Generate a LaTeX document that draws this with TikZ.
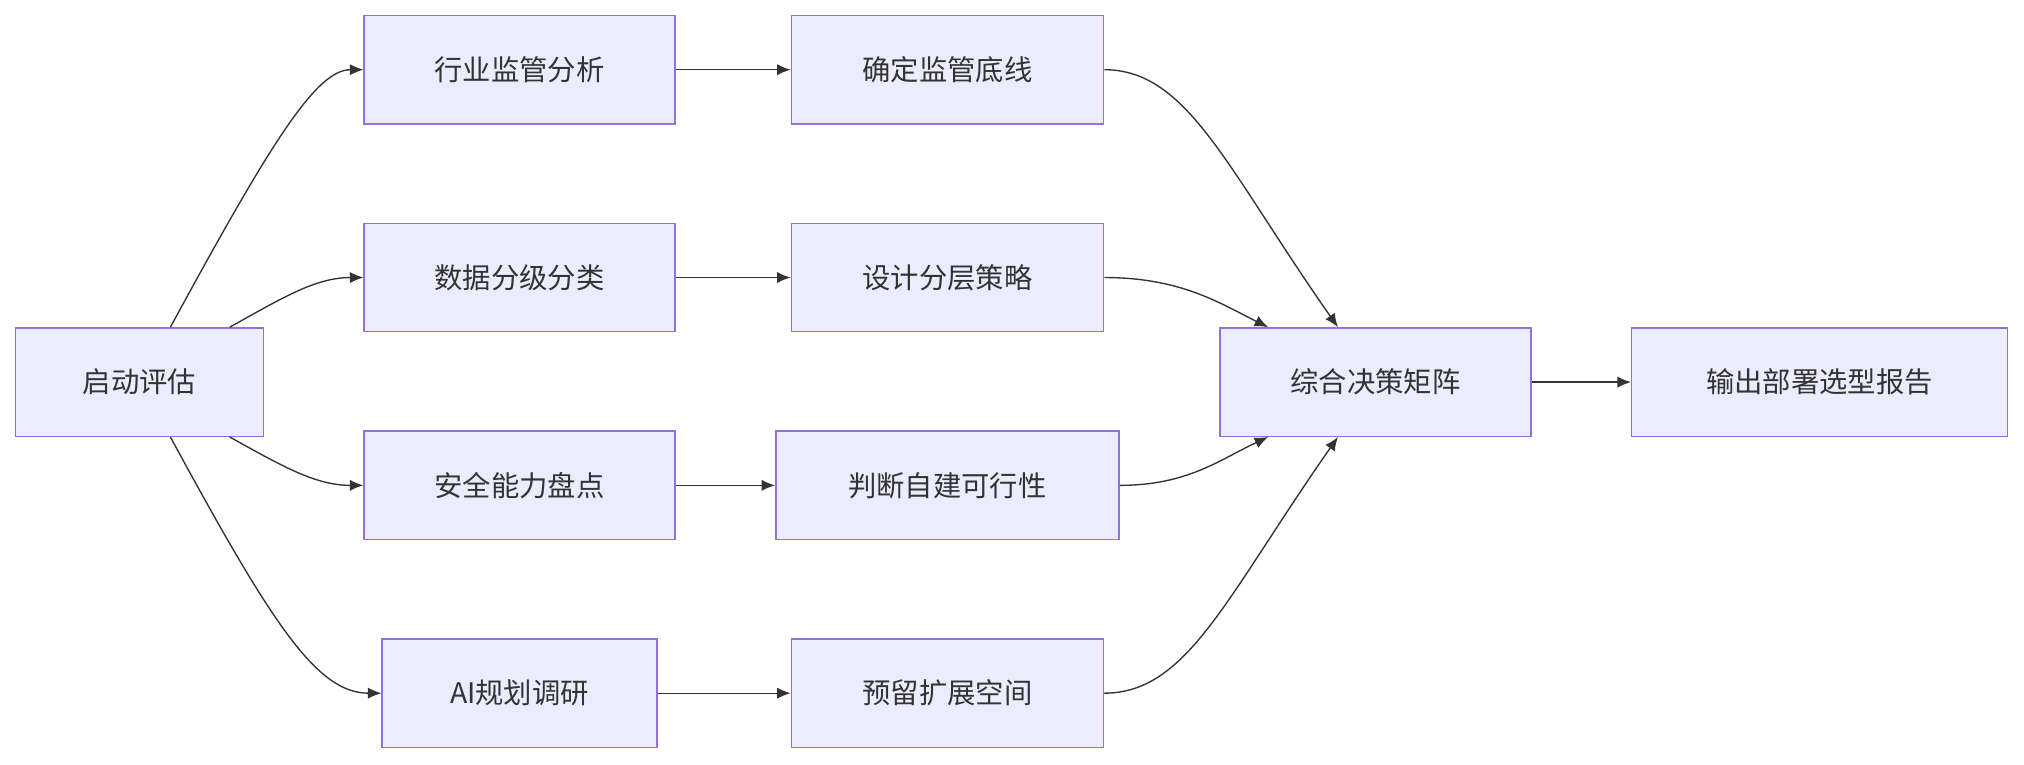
\documentclass[tikz,border=0pt]{standalone}
\usepackage{fontspec}
\setmainfont{Noto Sans CJK SC}
\usetikzlibrary{arrows.meta}
\definecolor{boxfill}{HTML}{ECECFF}
\definecolor{boxline}{HTML}{9370DB}
\definecolor{edge}{HTML}{333333}
\begin{document}
\begin{tikzpicture}[x=0.02cm,y=-0.02cm,
	box/.style={draw=boxline,fill=boxfill,line width=0.6pt,minimum height=1.68cm,inner sep=0pt,font=\fontsize{12.5}{15}\selectfont,text=edge},
	flow/.style={draw=edge,line width=0.6pt,-{Latex[length=6pt,width=5pt]}}]
	\useasboundingbox (0,0) rectangle (1568,592);
	\node [box,minimum width=3.84cm] (start) at (108,296) {启动评估};
	\node [box,minimum width=4.82cm] (reg) at (402.5,54) {行业监管分析};
	\node [box,minimum width=4.82cm] (data) at (402.5,215) {数据分级分类};
	\node [box,minimum width=4.82cm] (sec) at (402.5,376) {安全能力盘点};
	\node [box,minimum width=4.26cm] (ai) at (402.5,537) {AI规划调研};
	\node [box,minimum width=4.84cm] (base) at (734,54) {确定监管底线};
	\node [box,minimum width=4.84cm] (tier) at (734,215) {设计分层策略};
	\node [box,minimum width=5.32cm] (feas) at (734,376) {判断自建可行性};
	\node [box,minimum width=4.84cm] (space) at (734,537) {预留扩展空间};
	\node [box,minimum width=4.82cm] (matrix) at (1065.5,296) {综合决策矩阵};
	\node [box,minimum width=5.82cm] (report) at (1409.5,296) {输出部署选型报告};
	% fan out
	\draw [flow] ([xshift=0.48cm]start.north) .. controls (210,110) and (245,54) .. (reg.west);
	\draw [flow] ([xshift=1.4cm]start.north) .. controls (220,230) and (245,215) .. (data.west);
	\draw [flow] ([xshift=1.4cm]start.south) .. controls (220,362) and (245,376) .. (sec.west);
	\draw [flow] ([xshift=0.48cm]start.south) .. controls (210,482) and (245,537) .. (ai.west);
	% middle
	\draw [flow] (reg) -- (base);
	\draw [flow] (data) -- (tier);
	\draw [flow] (sec) -- (feas);
	\draw [flow] (ai) -- (space);
	% fan in
	\draw [flow] (base.east) .. controls (920,54) and (950,130) .. ([xshift=-0.58cm]matrix.north);
	\draw [flow] (tier.east) .. controls (915,215) and (945,235) .. ([xshift=-1.66cm]matrix.north);
	\draw [flow] (feas.east) .. controls (920,376) and (945,356) .. ([xshift=-1.66cm]matrix.south);
	\draw [flow] (space.east) .. controls (920,537) and (950,462) .. ([xshift=-0.58cm]matrix.south);
	\draw [flow] (matrix) -- (report);
\end{tikzpicture}
\end{document}
